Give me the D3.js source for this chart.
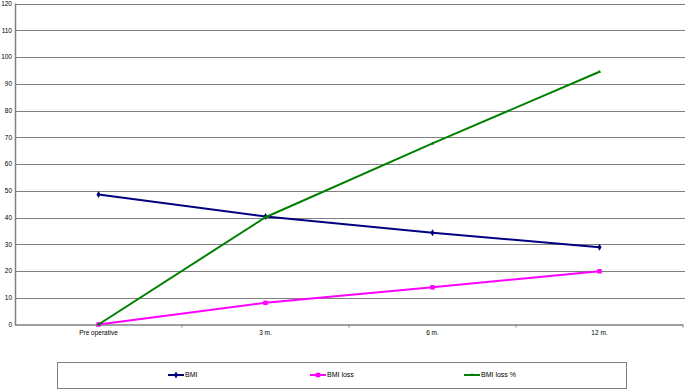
<!DOCTYPE html>
<html lang="en">
<head>
  <meta charset="utf-8">
  <style>
    body { margin: 0; padding: 0; background: #fff; font-family: Arial, "Liberation Sans", sans-serif; }
    .grid line { stroke: #808080; stroke-width: 1; }
    .axis text { font-size: 6.5px; fill: #000; }
  </style>
</head>
<body>
  <svg width="685" height="389"></svg>
  <script src="https://d3js.org/d3.v7.min.js"></script>
  <script>
    // data
    var categories = ["Pre operative", "3 m.", "6 m.", "12 m."];
    var bmi = [48.6, 40.4, 34.3, 28.9];
    var bmiLoss = [0, 8.1, 13.9, 19.9];
    var bmiLossPct = [0, 40.1, 67.7, 94.5];
    var yTicks = [0, 10, 20, 30, 40, 50, 60, 70, 80, 90, 100, 110, 120];

    var seriesNames = ["BMI", "BMI loss", "BMI loss %"];
    var seriesColors = ["#000080", "#ff00ff", "#008000"];
    var seriesShapes = [d3.symbolDiamond, d3.symbolSquare, d3.symbolTriangle];
    var seriesSizes = [14, 20, 5];
    var series = [bmi, bmiLoss, bmiLossPct];

    var svg = d3.select("svg"),
      plotLeft = 15,
      plotRight = 683,
      plotTop = 3.5,
      plotBottom = 324.5;

    var x = d3.scalePoint()
      .domain(categories)
      .range([plotLeft, plotRight])
      .padding(0.5);

    var y = d3.scaleLinear()
      .domain([0, 120])
      .range([plotBottom, plotTop]);

    // horizontal gridlines
    svg.append("g")
      .attr("class", "grid")
      .selectAll("line")
      .data(yTicks.slice(1))
      .enter().append("line")
      .attr("x1", plotLeft)
      .attr("x2", 685)
      .attr("y1", function(d) { return Math.round(y(d)) + 0.5; })
      .attr("y2", function(d) { return Math.round(y(d)) + 0.5; });

    // y axis labels
    svg.append("g")
      .attr("class", "axis")
      .selectAll("text")
      .data(yTicks)
      .enter().append("text")
      .attr("x", 12)
      .attr("y", function(d) { return y(d); })
      .attr("dy", "0.35em")
      .attr("text-anchor", "end")
      .text(function(d) { return d; });

    svg.append("line")
      .attr("x1", plotLeft + 0.5).attr("x2", plotLeft + 0.5)
      .attr("y1", plotTop).attr("y2", plotBottom + 1)
      .attr("stroke", "#808080").attr("stroke-width", 1.5);

    // x axis
    var step = x.step();
    svg.append("line")
      .attr("x1", plotLeft).attr("x2", plotRight)
      .attr("y1", plotBottom + 0.5).attr("y2", plotBottom + 0.5)
      .attr("stroke", "#808080").attr("stroke-width", 1.5);

    svg.append("g")
      .selectAll("line")
      .data(categories)
      .enter().append("line")
      .attr("x1", function(d) { return x(d) + step / 2; })
      .attr("x2", function(d) { return x(d) + step / 2; })
      .attr("y1", plotBottom).attr("y2", plotBottom + 3)
      .attr("stroke", "#808080");

    svg.append("g")
      .attr("class", "axis")
      .selectAll("text")
      .data(categories)
      .enter().append("text")
      .attr("x", function(d) { return x(d); })
      .attr("y", 335)
      .attr("text-anchor", "middle")
      .text(function(d) { return d; });

    // lines and markers
    var line = d3.line()
      .x(function(d, i) { return x(categories[i]); })
      .y(function(d) { return y(d); });

    series.forEach(function(s, k) {
      var g = svg.append("g");
      g.append("path")
        .attr("d", line(s))
        .attr("fill", "none")
        .attr("stroke", seriesColors[k])
        .attr("stroke-width", 2);
      g.selectAll("path.pt")
        .data(s)
        .enter().append("path")
        .attr("class", "pt")
        .attr("transform", function(d, i) {
          return "translate(" + x(categories[i]) + "," + y(d) + ")";
        })
        .attr("d", d3.symbol().type(seriesShapes[k]).size(seriesSizes[k]))
        .attr("fill", seriesColors[k]);
    });

    // legend
    svg.append("rect")
      .attr("x", 57.5).attr("y", 362.5)
      .attr("width", 569).attr("height", 26)
      .attr("fill", "#fff")
      .attr("stroke", "#808080");

    var legendX = [168, 310, 464];
    var legend = svg.append("g")
      .selectAll("g")
      .data(seriesNames)
      .enter().append("g")
      .attr("transform", function(d, i) { return "translate(" + legendX[i] + ",375)"; });

    legend.append("line")
      .attr("x1", 0).attr("x2", 16)
      .attr("stroke", function(d, i) { return seriesColors[i]; })
      .attr("stroke-width", 2);

    legend.append("path")
      .attr("transform", "translate(8,0)")
      .attr("d", function(d, i) { return d3.symbol().type(seriesShapes[i]).size(seriesSizes[i])(); })
      .attr("fill", function(d, i) { return seriesColors[i]; });

    legend.append("text")
      .attr("x", 17)
      .attr("dy", "0.35em")
      .style("font-size", "7px")
      .text(function(d) { return d; });
  </script>
</body>
</html>
